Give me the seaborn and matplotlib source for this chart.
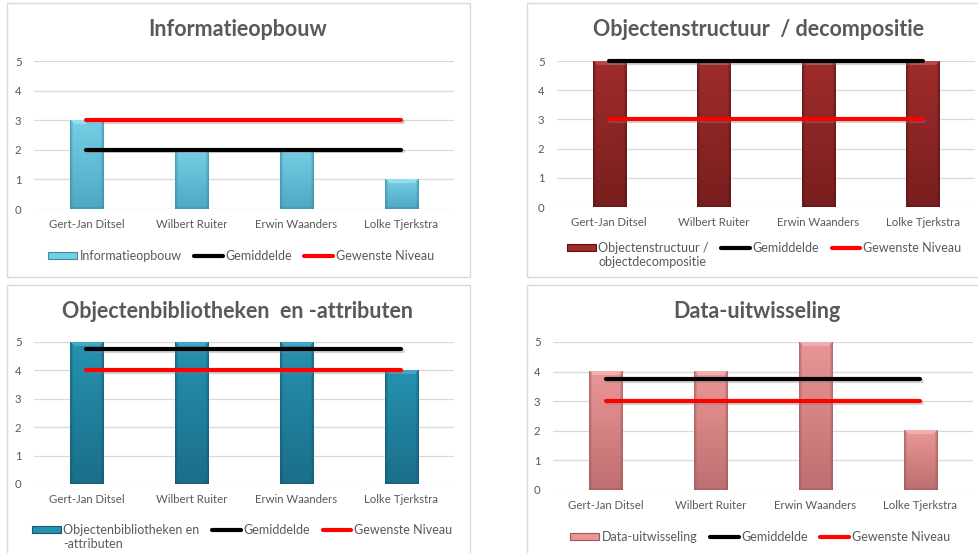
import numpy as np
import matplotlib
matplotlib.use("Agg")
import matplotlib.pyplot as plt
import matplotlib.patheffects as pe
from matplotlib.patches import Rectangle, Patch
from matplotlib.lines import Line2D
from matplotlib.colors import to_rgb
import seaborn as sns

# ---- data -------------------------------------------------------------
names = ["Gert-Jan Ditsel", "Wilbert Ruiter", "Erwin Waanders", "Lolke Tjerkstra"]

informatieopbouw = [3, 2, 2, 1]
objectenstructuur = [5, 5, 5, 5]
objectenbibliotheken = [5, 5, 5, 4]
data_uitwisseling = [4, 4, 5, 2]

gemiddelde = [2, 5, 4.75, 3.75]
gewenste_niveau = [3, 3, 4, 3]

titles = [
    "Informatieopbouw",
    "Objectenstructuur  / decompositie",
    "Objectenbibliotheken  en -attributen",
    "Data-uitwisseling",
]
bar_labels = [
    "Informatieopbouw",
    "Objectenstructuur /\nobjectdecompositie",
    "Objectenbibliotheken en\n-attributen",
    "Data-uitwisseling",
]
y_ticks = [0, 1, 2, 3, 4, 5]

# ---- style ------------------------------------------------------------
sns.set_theme(style="white")
plt.rcParams["font.family"] = ["Lato", "DejaVu Sans"]
GREY = "#595959"
GRID = "#D9D9D9"
LEG_FS = 9

W, H = 979, 553
fig = plt.figure(figsize=(W / 100, H / 100), dpi=100)
fig.patch.set_facecolor("white")


def fx(px):
    return px / W


def fy(py):
    return 1 - py / H


# bar colour schemes: top, bottom, edge, bevel cap
schemes = [
    ("#74CFE6", "#4EA8C2", "#3A8BA3", "#A9E6F4"),
    ("#A02C2C", "#781E1E", "#5A1414", "#C85656"),
    ("#2592B0", "#1B6E89", "#135870", "#52B4D0"),
    ("#EA9696", "#BE6F6F", "#9E5656", "#F6BDBD"),
]

# panel layout in pixels: frame (x0, y0, x1, y1), axes (left, bottom, right, top),
# title centre, legend centre (first row)
panels = [
    dict(frame=(7, 3, 470, 277), axes=(34, 209, 454, 61), title=(238, 30), legend=(241, 256)),
    dict(frame=(527, 3, 990, 277), axes=(557, 207, 975, 61), title=(759, 30), legend=(764, 248)),
    dict(frame=(7, 285, 470, 560), axes=(34, 484, 454, 342), title=(238, 311), legend=(242, 530)),
    dict(frame=(527, 285, 990, 560), axes=(553, 490, 973, 342), title=(757, 311), legend=(760, 537)),
]

series = [informatieopbouw, objectenstructuur, objectenbibliotheken, data_uitwisseling]


def shade_bars(ax, patches, top, bottom, edge, cap):
    top, bottom, edge, cap = (np.array(to_rgb(c)) for c in (top, bottom, edge, cap))
    for p in patches:
        x0, y0, w, h = p.get_x(), p.get_y(), p.get_width(), p.get_height()
        if h <= 0:
            continue
        (px0, py0) = ax.transData.transform((x0, y0))
        (px1, py1) = ax.transData.transform((x0 + w, y0 + h))
        nx = max(int(round(px1 - px0)), 4)
        ny = max(int(round(py1 - py0)), 4)
        t = np.linspace(0, 1, ny)[:, None, None]
        img = (1 - t) * top + t * bottom
        img = np.broadcast_to(img, (ny, nx, 3)).copy()
        d = np.minimum(np.arange(nx) + 0.5, nx - np.arange(nx) - 0.5)
        e = np.clip(1 - d / 3.5, 0, 1)[None, :, None] * 0.75
        img = img * (1 - e) + edge * e
        for r in range(min(4, ny)):
            m = d > r + 0.5
            img[r, m] = img[r, m] * 0.35 + cap * 0.65
        for r in range(1, min(3, ny)):
            img[-r] = img[-r] * 0.6 + edge * 0.4
        ax.imshow(img, extent=(x0, x0 + w, y0, y0 + h), origin="upper",
                  aspect="auto", interpolation="bilinear",
                  zorder=p.get_zorder() + 0.01, clip_on=False)


shadow = [pe.SimpleLineShadow(offset=(0.8, -1.2), shadow_color="#808080", alpha=0.35), pe.Normal()]

legends = []
for i, pan in enumerate(panels):
    fx0, fy0, fx1, fy1 = pan["frame"]
    fig.add_artist(Rectangle((fx(fx0), fy(fy1)), fx(fx1 - fx0), (fy1 - fy0) / H,
                             transform=fig.transFigure, fill=False,
                             edgecolor=GRID, linewidth=1.0))

    l, b, r, t = pan["axes"]
    ax = fig.add_axes([fx(l), fy(b), fx(r - l), (b - t) / H])
    ax.set_facecolor("none")
    top, bottom, edge, cap = schemes[i]

    sns.barplot(x=names, y=series[i], order=names, ax=ax, color=top,
                saturation=1, width=0.32, edgecolor="none", zorder=2)
    bars = list(ax.patches)

    ax.set_xlim(-0.5, 3.5)
    ax.set_ylim(0, 5)
    shade_bars(ax, bars, top, bottom, edge, cap)

    pos = np.arange(len(names))
    sns.lineplot(x=pos, y=[gemiddelde[i]] * len(names), ax=ax, color="black",
                 linewidth=3.0, solid_capstyle="round", zorder=5,
                 path_effects=shadow, clip_on=False, legend=False)
    sns.lineplot(x=pos, y=[gewenste_niveau[i]] * len(names), ax=ax, color="#FF0000",
                 linewidth=3.0, solid_capstyle="round", zorder=5,
                 path_effects=shadow, clip_on=False, legend=False)

    ax.set_xlim(-0.5, 3.5)
    ax.set_ylim(0, 5)
    ax.set_yticks(y_ticks)
    ax.set_xlabel("")
    ax.set_ylabel("")
    ax.grid(axis="y", color=GRID, linewidth=0.9)
    ax.grid(axis="x", visible=False)
    ax.set_axisbelow(True)
    for s in ax.spines.values():
        s.set_visible(False)
    ax.tick_params(axis="y", length=0, pad=9, labelsize=8.2, labelcolor=GREY)
    ax.tick_params(axis="x", length=0, pad=7, labelsize=8.2, labelcolor=GREY)

    tx, ty = pan["title"]
    fig.text(fx(tx), fy(ty), titles[i], ha="center", va="center",
             fontsize=15.5, fontweight="bold", color=GREY)

    handles = [
        Patch(facecolor=top, edgecolor=edge, linewidth=0.8),
        Line2D([], [], color="black", linewidth=3.0, solid_capstyle="round"),
        Line2D([], [], color="#FF0000", linewidth=3.0, solid_capstyle="round"),
    ]
    first, *rest = bar_labels[i].split("\n")
    lx, ly = pan["legend"]
    leg = fig.legend(handles, [first, "Gemiddelde", "Gewenste Niveau"],
                     loc="center", bbox_to_anchor=(fx(lx), fy(ly)), ncol=3,
                     frameon=False, fontsize=LEG_FS, labelcolor=GREY,
                     handlelength=2.3, handleheight=0.55, handletextpad=0.2,
                     columnspacing=1.0, borderpad=0, borderaxespad=0)
    legends.append((leg, rest))

# wrapped bar-series labels continue on a second line under the first one
fig.canvas.draw()
renderer = fig.canvas.get_renderer()
for leg, rest in legends:
    if not rest:
        continue
    bb = leg.get_texts()[0].get_window_extent(renderer)
    fig.text(bb.x0 / W, (bb.y0 - 2) / H, "\n".join(rest), ha="left", va="top",
             fontsize=LEG_FS, color=GREY)

fig.savefig("out.png", dpi=100, facecolor="white")
